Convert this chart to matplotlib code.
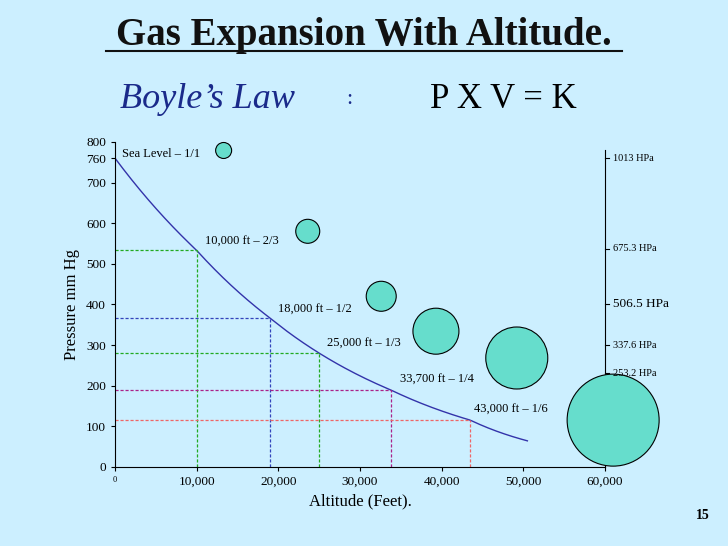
import matplotlib
matplotlib.use("Agg")
import matplotlib.pyplot as plt
import numpy as np

alt = [0, 10000, 19000, 25000, 33800, 43500, 50500]
press = [760, 533, 366, 280, 189, 115, 64]
lbl_alt = [10000, 19000, 25000, 33800, 43500]
lbl_p = [533, 366, 280, 189, 115]
labels = ["10,000 ft \u2013 2/3", "18,000 ft \u2013 1/2", "25,000 ft \u2013 1/3", "33,700 ft \u2013 1/4", "43,000 ft \u2013 1/6"]
lbl_tx = [11000, 20000, 26000, 34900, 44000]
lbl_ty = [555, 386, 302, 214, 140]
dash_colors = ["#22aa22", "#3344bb", "#22aa22", "#aa2288", "#ee6666"]
bub_x = [13300, 23600, 32600, 39300, 49200, 61000]
bub_y = [779, 580, 420, 334, 268, 115]
bub_r = [8, 12, 15, 23, 31, 46]  # pixel radius
hpa_y = [760, 537, 400, 300, 230]
hpa_lbl = ["1013 HPa", "675.3 HPa", "506.5 HPa", "337.6 HPa", "253.2 HPa"]
hpa_size = [7.5, 7.5, 9.5, 7.5, 7.5]

SERIF = "Liberation Serif"
bg = "#ccefff"
fig = plt.figure(figsize=(7.28, 5.46), dpi=100, facecolor=bg)
ax = fig.add_axes([0.158, 0.145, 0.673, 0.595])
ax.set_facecolor(bg)
ax.set_xlim(0, 60000)
ax.set_ylim(0, 800)
ax.spines["top"].set_visible(False)
ax.spines["right"].set_visible(False)

xs = np.linspace(0, 50500, 200)
ys = np.exp(np.interp(xs, alt, np.log(press)))
ax.plot(xs, ys, color="#3333aa", lw=1)

for x, y, c in zip(lbl_alt, lbl_p, dash_colors):
    ax.plot([0, x], [y, y], color=c, lw=0.9, dashes=(2.5, 1.5))
    ax.plot([x, x], [0, y], color=c, lw=0.9, dashes=(2.5, 1.5))

for x, y, t in zip(lbl_tx, lbl_ty, labels):
    ax.text(x, y, t, fontsize=9, family=SERIF, va="center", ha="left")
ax.text(800, 771, "Sea Level \u2013 1/1", fontsize=9, family=SERIF, va="center")

s = [(2 * r * 0.72) ** 2 for r in bub_r]
ax.scatter(bub_x, bub_y, s=s, facecolor="#66ddcc", edgecolor="black", lw=0.8, clip_on=False, zorder=3)

ax.plot([60000, 60000], [0, 780], color="black", lw=0.8, clip_on=False, zorder=2)
for y, t, fs in zip(hpa_y, hpa_lbl, hpa_size):
    ax.plot([60000, 60500], [y, y], color="black", lw=0.8, clip_on=False)
    ax.text(61000, y, t, fontsize=fs, family=SERIF, va="center")

ax.set_xticks([0, 10000, 20000, 30000, 40000, 50000, 60000])
ax.set_xticklabels(["0", "10,000", "20,000", "30,000", "40,000", "50,000", "60,000"], family=SERIF, fontsize=9.5)
ax.get_xticklabels()[0].set_fontsize(6)
ax.set_yticks([0, 100, 200, 300, 400, 500, 600, 700, 760, 800])
ax.set_yticklabels(["0", "100", "200", "300", "400", "500", "600", "700", "760", "800"], family=SERIF, fontsize=9.5)
ax.tick_params(length=3)
ax.set_xlabel("Altitude (Feet).", family=SERIF, fontsize=12)
ax.set_ylabel("Pressure mm Hg", family=SERIF, fontsize=12)

fig.text(0.50, 0.918, "Gas Expansion With Altitude.", ha="center", va="baseline", fontsize=28,
         fontweight="bold", family=SERIF, color="#111111")
fig.lines.append(plt.Line2D([0.145, 0.855], [0.906, 0.906], transform=fig.transFigure, color="#111111", lw=1.5))
fig.text(0.165, 0.817, "Boyle\u2019s Law", fontsize=26, style="italic", family=SERIF, color="#1a2a8a", va="center")
fig.text(0.475, 0.817, ":", fontsize=16, family=SERIF, color="#1a2a8a", va="center")
fig.text(0.59, 0.817, "P X V = K", fontsize=25, family=SERIF, color="black", va="center")
fig.text(0.975, 0.05, "15", fontsize=10, fontweight="bold", family=SERIF, ha="right")

fig.savefig("out.png", dpi=100, facecolor=bg)
